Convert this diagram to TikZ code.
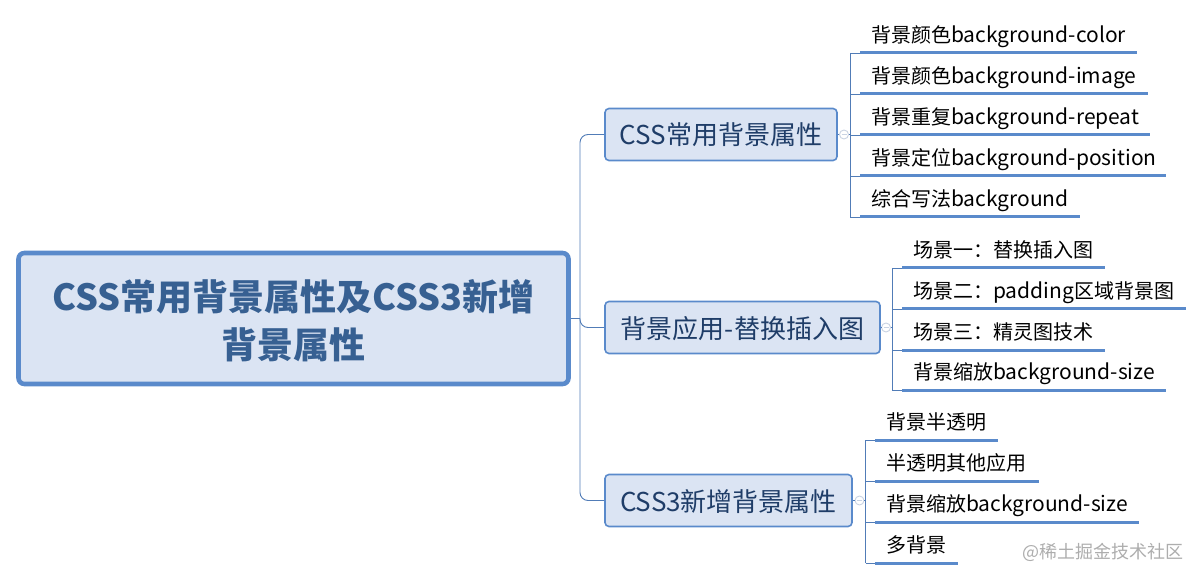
\documentclass[tikz,border=0pt]{standalone}
\usepackage{fontspec}
\setmainfont{Noto Sans CJK SC}
\definecolor{boxline}{HTML}{5A8ACB}
\definecolor{boxfill}{HTML}{DBE4F3}
\definecolor{roottext}{HTML}{376092}
\definecolor{branchtext}{HTML}{1F3D68}
\definecolor{foldline}{HTML}{C9D3E3}
\newcommand{\en}[1]{{\fontsize{21}{24}\selectfont #1}}
\tikzset{
    rootbox/.style={draw=boxline, line width=4.6pt, fill=boxfill, rounded corners=6pt, align=center,
        minimum width=550pt, minimum height=131pt, inner sep=0pt, text=roottext, text depth=0pt,
        font=\fontsize{36}{48}\selectfont\bfseries},
    branchbox/.style={draw=boxline, line width=1.6pt, fill=boxfill, rounded corners=4pt,
        minimum height=52pt, inner sep=0pt, text height=24pt, text depth=3pt,
        text=branchtext, font=\fontsize{26}{30}\selectfont},
    leaf/.style={anchor=south west, inner xsep=11pt, inner ysep=4pt, align=left,
        text height=15pt, text depth=6pt, font=\fontsize{20}{24}\selectfont},
    leafline/.style={draw=boxline, line width=3pt},
    link/.style={draw=boxline!90!black, line width=.9pt},
    fold/.style={circle, draw=foldline, fill=white, line width=.9pt, minimum size=9pt, inner sep=0pt,
        path picture={\draw[foldline, line width=.9pt] (path picture bounding box.west) ++(2pt,0) -- ++(5pt,0);}},
}
\begin{document}
\begin{tikzpicture}[x=1pt,y=-1pt]
    \useasboundingbox (0,0) rectangle (1203,580);

    \node[rootbox] (root) at (293.5,318.5) {CSS常用背景属性及CSS3新增\\背景属性};
    \node[branchbox, minimum width=232pt] (css) at (721,134.5) {CSS常用背景属性};
    \node[branchbox, minimum width=275pt] (app) at (742.5,327.5) {背景应用-替换插入图};
    \node[branchbox, minimum width=247pt] (new) at (728.5,500.5) {CSS3新增背景属性};

    % trunk
    \coordinate (trunk) at (580,318.5);
    \draw[link] (root.east) -- (trunk);
    \draw[link, rounded corners=8pt] (trunk) |- (css.west);
    \draw[link, rounded corners=8pt] (trunk) |- (app.west);
    \draw[link, rounded corners=8pt] (trunk) |- (new.west);

    % first group
    \foreach \n/\y/\w/\t in {1/53/277/背景颜色\en{background-color},
                             2/94/288/背景颜色\en{background-image},
                             3/135/290/背景重复\en{background-repeat},
                             4/176/306/背景定位\en{background-position},
                             5/217/220/综合写法\en{background}}
        {\node[leaf, text width=\w pt-22pt] (a\n) at (860,\y) {\mbox{\t}};
         \draw[leafline] (a\n.south west) -- (a\n.south east);}
    \coordinate (g1) at (850,134.5);
    \draw[link] (g1 |- a1.south west) -- (g1 |- a5.south west);
    \foreach \n in {1,...,5}
        {\draw[link] (g1 |- a\n.south west) -- (a\n.south west);}
    \node[fold] (f1) at (844,134.5) {};
    \draw[link] (css.east) -- (f1) (f1) -- (g1);

    % second group
    \foreach \n/\y/\w/\t in {1/268/203/场景一：替换插入图,
                             2/309/284/场景二：\en{padding}区域背景图,
                             3/350/203/场景三：精灵图技术,
                             4/390/264/背景缩放\en{background-size}}
        {\node[leaf, text width=\w pt-22pt] (b\n) at (902,\y) {\mbox{\t}};
         \draw[leafline] (b\n.south west) -- (b\n.south east);}
    \coordinate (g2) at (892,327.5);
    \draw[link] (g2 |- b1.south west) -- (g2 |- b4.south west);
    \foreach \n in {1,...,4}
        {\draw[link] (g2 |- b\n.south west) -- (b\n.south west);}
    \node[fold] (f2) at (886,327.5) {};
    \draw[link] (app.east) -- (f2) (f2) -- (g2);

    % third group
    \foreach \n/\y/\w/\t in {1/440/123/背景半透明,
                             2/481/164/半透明其他应用,
                             3/522/264/背景缩放\en{background-size},
                             4/563/83/多背景}
        {\node[leaf, text width=\w pt-22pt] (c\n) at (875,\y) {\mbox{\t}};
         \draw[leafline] (c\n.south west) -- (c\n.south east);}
    \coordinate (g3) at (865.5,500.5);
    \draw[link] (g3 |- c1.south west) -- (g3 |- c4.south west);
    \foreach \n in {1,...,4}
        {\draw[link] (g3 |- c\n.south west) -- (c\n.south west);}
    \node[fold] (f3) at (859.5,500.5) {};
    \draw[link] (new.east) -- (f3) (f3) -- (g3);

    \node[text=black!32, anchor=east, inner sep=0pt, font=\fontsize{18}{20}\selectfont] (mark) at (1184,552) {@稀土掘金技术社区};
\end{tikzpicture}
\end{document}
